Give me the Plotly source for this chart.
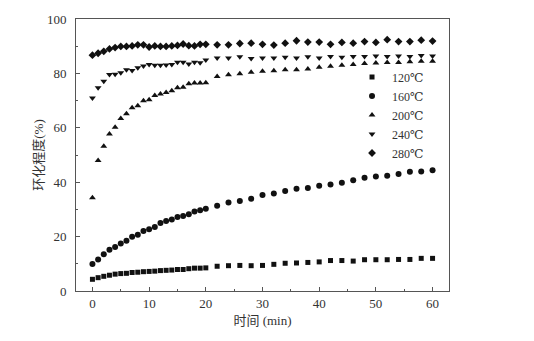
import plotly.graph_objects as go

# Reaction time (min): every minute up to 20, then every 2 minutes
time_min = list(range(0, 21)) + list(range(22, 61, 2))

# Degree of cyclization (%) at each temperature
cyc_120 = [4.3, 4.9, 5.4, 5.8, 6.2, 6.4, 6.5, 6.8, 6.9, 7.1, 7.2, 7.3, 7.5, 7.6, 7.7, 7.9, 7.9, 8.2, 8.4, 8.4, 8.5,
           9.1, 9.3, 9.4, 9.3, 9.4, 9.8, 10.2, 10.3, 10.5, 10.7, 11.2, 11.2, 11.0, 11.5, 11.5, 11.5, 11.6, 11.6, 12.0, 12.0]
cyc_160 = [9.9, 11.6, 13.5, 15.2, 16.2, 17.5, 18.5, 19.9, 20.7, 22.1, 22.7, 23.5, 25.0, 25.7, 26.3, 27.2, 27.6, 28.2, 29.2, 29.7, 30.2,
           31.3, 32.5, 33.1, 33.9, 35.3, 35.8, 36.8, 37.6, 37.9, 38.7, 39.2, 39.8, 40.7, 41.6, 42.1, 42.4, 43.0, 43.8, 43.9, 44.4]
cyc_200 = [34.3, 48.0, 53.2, 57.7, 60.2, 63.4, 65.2, 67.4, 68.1, 69.9, 70.3, 71.9, 72.4, 73.0, 73.6, 74.7, 74.9, 76.2, 76.5, 76.5, 76.6,
           78.9, 79.5, 79.9, 80.4, 80.8, 81.0, 81.3, 81.3, 81.6, 82.3, 82.6, 83.0, 83.3, 83.6, 83.8, 84.0, 84.0, 84.3, 84.5, 84.5]
cyc_240 = [71.0, 74.7, 77.1, 79.6, 79.7, 80.2, 81.3, 81.1, 82.1, 82.7, 83.3, 83.0, 83.0, 83.1, 83.3, 84.1, 84.1, 83.5, 84.1, 83.9, 84.9,
           85.7, 85.7, 86.1, 85.5, 85.7, 85.7, 85.9, 85.7, 86.1, 85.7, 86.2, 85.9, 86.2, 86.2, 86.4, 86.2, 86.4, 86.2, 86.6, 86.4]
cyc_280 = [86.7, 87.4, 88.1, 89.0, 89.5, 89.9, 89.9, 90.1, 90.5, 90.5, 89.7, 90.1, 89.9, 89.9, 90.1, 90.3, 90.8, 90.2, 90.1, 90.7, 90.7,
           90.5, 90.5, 91.0, 91.1, 90.7, 90.4, 91.1, 92.0, 91.5, 91.5, 90.7, 91.4, 91.1, 91.7, 91.4, 92.4, 91.7, 91.7, 92.2, 91.9]

series_names = ["120℃", "160℃", "200℃", "240℃", "280℃"]
series_values = [cyc_120, cyc_160, cyc_200, cyc_240, cyc_280]
symbols = ["square", "circle", "triangle-up", "triangle-down", "diamond"]
sizes = [5, 6, 6, 6, 6]

FONT = "'Times New Roman', 'Liberation Serif', 'DejaVu Serif', 'Noto Sans CJK SC', serif"
TEXT_COLOR = "#333333"

fig = go.Figure()
for name, vals, sym, sz in zip(series_names, series_values, symbols, sizes):
    fig.add_trace(go.Scatter(
        x=time_min, y=vals, mode="markers", name=name,
        marker=dict(symbol=sym, size=sz, color="#111111", line=dict(width=0)),
    ))

axis_common = dict(
    showline=True, linecolor="#555555", linewidth=1, mirror=True,
    ticks="inside", ticklen=4, tickcolor="#555555", tickwidth=1,
    showgrid=False, zeroline=False,
    tickfont=dict(family=FONT, size=13, color=TEXT_COLOR),
)

fig.update_xaxes(
    range=[-2.9, 62.9], tick0=0, dtick=10,
    minor=dict(ticks="inside", ticklen=2, dtick=5, tick0=0, tickcolor="#555555"),
    title=dict(text="时间 (min)", font=dict(family=FONT, size=13, color=TEXT_COLOR), standoff=6),
    **axis_common,
)
fig.update_yaxes(
    range=[0, 100], tick0=0, dtick=20,
    minor=dict(ticks="inside", ticklen=2, dtick=10, tick0=0, tickcolor="#555555"),
    ticklabelstandoff=6,
    title=dict(text="环化程度(%)", font=dict(family=FONT, size=13, color=TEXT_COLOR), standoff=0),
    **axis_common,
)

fig.update_layout(
    width=534, height=341,
    margin=dict(l=76, r=85, t=16, b=50),
    plot_bgcolor="white", paper_bgcolor="white",
    showlegend=True,
    legend=dict(
        x=0.74, y=0.84, xanchor="left", yanchor="top",
        font=dict(family=FONT, size=12, color=TEXT_COLOR),
        bgcolor="rgba(0,0,0,0)", itemsizing="trace",
        tracegroupgap=0, itemwidth=30,
    ),
)

fig.write_html("out.html")
